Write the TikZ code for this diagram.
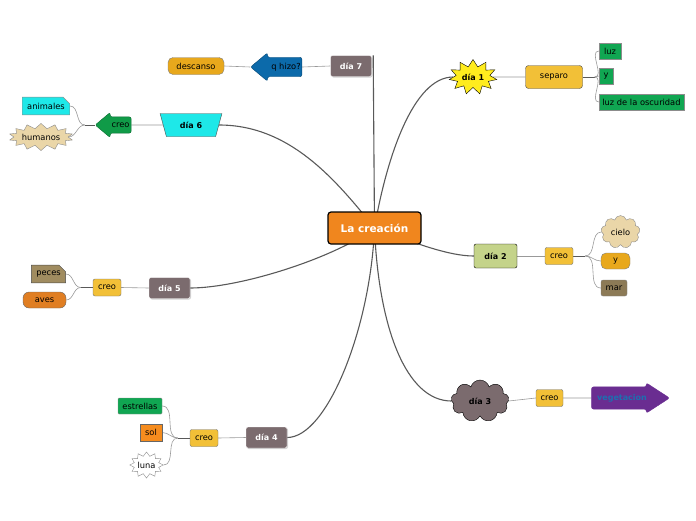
\documentclass[tikz,border=0pt]{standalone}
\usepackage{fontspec}
\setmainfont{DejaVu Sans}
\usetikzlibrary{shapes.geometric,shapes.symbols,shapes.arrows,shapes.misc,backgrounds,shadows,calc}
\definecolor{creaorange}{RGB}{240,134,30}
\definecolor{diagray}{RGB}{123,107,110}
\definecolor{dcyan}{RGB}{30,232,232}
\definecolor{leafgreen}{RGB}{16,166,82}
\definecolor{arrowgreen}{RGB}{16,155,72}
\definecolor{creogold}{RGB}{242,192,55}
\definecolor{darkgold}{RGB}{232,168,28}
\definecolor{qblue}{RGB}{12,106,170}
\definecolor{sandtan}{RGB}{234,214,168}
\definecolor{staryellow}{RGB}{255,236,30}
\definecolor{olivegreen}{RGB}{196,211,138}
\definecolor{pecesbrown}{RGB}{160,140,96}
\definecolor{marbrown}{RGB}{140,122,86}
\definecolor{vegpurple}{RGB}{106,45,145}
\definecolor{vegblue}{RGB}{30,111,176}
\definecolor{solorange}{RGB}{245,140,30}
\definecolor{avesorange}{RGB}{224,126,34}

\begin{document}
\begin{tikzpicture}[x=1pt,y=-1pt,
    topic/.style={rectangle, rounded corners=3pt, draw=black, line width=1.2pt,
        fill=creaorange, text=white, font=\bfseries\fontsize{10.5}{12}\selectfont,
        minimum width=93pt, minimum height=32pt},
    dia/.style={rectangle, rounded corners=2pt, draw=white, fill=diagray,
        text=white, font=\bfseries\fontsize{8}{9}\selectfont,
        minimum width=41pt, minimum height=21pt,
        drop shadow={opacity=0.35, shadow xshift=1pt, shadow yshift=-1pt}},
    sub/.style={rectangle, rounded corners=2pt, draw=black!55, fill=creogold,
        font=\fontsize{8.3}{9}\selectfont, minimum height=17pt, inner sep=2pt},
    leaf/.style={rectangle, draw=black!45, font=\fontsize{8.3}{9}\selectfont,
        minimum height=16pt, inner sep=2pt},
    branch/.style={draw=black!65, line width=1.1pt},
    link/.style={draw=black!40, line width=0.6pt},
    stub/.style={draw=black!65, line width=0.9pt}
]
\useasboundingbox (0,0) rectangle (696,520);

% centre
\node[topic] (crea) at (374.5,228) {La creación};

% dia 7
\node[dia] (dia7) at (351,66) {día 7};
\node[single arrow, shape border rotate=180, fill=qblue, draw=qblue!70!black,
      rounded corners=2pt, font=\fontsize{8.3}{9}\selectfont,
      minimum height=50pt, single arrow head extend=4.5pt, single arrow tip angle=80,
      inner xsep=1pt, inner ysep=5.5pt] (qhizo) at (282,67) {\hspace{8pt}q hizo?};
\node[leaf, rounded corners=5pt, fill=darkgold, draw=black!50, minimum width=56pt,
      minimum height=17pt] (descanso) at (196,66) {descanso};

% dia 6
\node[trapezium, shape border rotate=180, draw=black!70, fill=dcyan,
      font=\bfseries\fontsize{8}{9}\selectfont, trapezium left angle=70,
      trapezium right angle=70, minimum width=62pt, minimum height=23pt,
      inner sep=1pt, trapezium stretches=true] (dia6) at (191,125) {día 6};
\node[single arrow, shape border rotate=180, fill=arrowgreen, draw=arrowgreen!70!black,
      rounded corners=2pt, font=\fontsize{8.3}{9}\selectfont,
      minimum height=36pt, single arrow head extend=4.5pt, single arrow tip angle=80,
      inner xsep=1pt, inner ysep=5.5pt] (creo6) at (118,125) {\hspace{5pt}creo};
\node[leaf, chamfered rectangle, chamfered rectangle corners=north east,
      chamfered rectangle xsep=3pt, fill=dcyan, minimum width=47pt] (animales) at (46,106) {animales};
\node[starburst, starburst points=14, starburst point height=5pt, random starburst=0,
      draw=black!45, fill=sandtan, font=\fontsize{8.3}{9}\selectfont,
      minimum width=58pt, minimum height=27pt, inner sep=0pt] (humanos) at (41,137) {humanos};

% dia 1
\node[starburst, starburst points=11, starburst point height=7pt, random starburst=0,
      draw=black, fill=staryellow, font=\bfseries\fontsize{8}{9}\selectfont,
      minimum width=48pt, minimum height=35pt, inner sep=0pt] (dia1) at (473,77) {día 1};
\node[sub, minimum width=57pt, minimum height=23pt, rounded corners=3pt,
      draw=black!70] (separo) at (554,77) {separo};
\node[leaf, fill=leafgreen, minimum width=22pt] (luz) at (610,51) {luz};
\node[leaf, fill=leafgreen, minimum width=14pt] (y1) at (606,76) {y};
\node[leaf, fill=leafgreen, minimum width=85pt, inner xsep=1pt] (luzosc) at (641.5,102) {luz de la oscuridad};

% dia 2
\node[rectangle, rounded corners=2pt, draw=black, fill=olivegreen,
      font=\bfseries\fontsize{8}{9}\selectfont,
      minimum width=43pt, minimum height=24pt] (dia2) at (495.5,256) {día 2};
\node[sub, minimum width=28pt] (creo2) at (559,256) {creo};
\node[cloud, cloud puffs=9, draw=black!45, fill=sandtan, font=\fontsize{8.3}{9}\selectfont,
      minimum width=39pt, minimum height=29pt, inner sep=0pt] (cielo) at (620.5,232) {cielo};
\node[leaf, rounded corners=5pt, fill=darkgold, draw=black!50, minimum width=29pt] (y2) at (615.5,261) {y};
\node[leaf, rounded corners=2pt, fill=marbrown, draw=black!50, minimum width=26pt] (mar) at (614,288) {mar};

% dia 3
\node[cloud, cloud puffs=9, draw=black, fill=diagray, font=\bfseries\fontsize{8}{9}\selectfont,
      minimum width=58pt, minimum height=42pt, inner sep=0pt] (dia3) at (480,401) {día 3};
\node[sub, minimum width=27pt] (creo3) at (549.5,398) {creo};
\node[single arrow, fill=vegpurple, draw=vegpurple, rounded corners=2pt,
      text=vegblue, font=\bfseries\fontsize{8}{9}\selectfont,
      minimum height=78pt, single arrow head extend=4pt, single arrow tip angle=66,
      inner xsep=1pt, inner ysep=7pt] (veget) at (622,398) {vegetacion};

% dia 4
\node[dia] (dia4) at (266.5,437.5) {día 4};
\node[sub, minimum width=28pt] (creo4) at (204,438) {creo};
\node[leaf, rounded corners=1pt, fill=leafgreen, minimum width=44pt] (estrellas) at (140,406) {estrellas};
\node[leaf, fill=solorange, draw=black!60, minimum width=22pt, minimum height=17pt] (sol) at (151,432.5) {sol};
\node[starburst, starburst points=12, starburst point height=4pt, random starburst=0,
      draw=black!45, fill=white, font=\fontsize{8.3}{9}\selectfont,
      minimum width=33pt, minimum height=26pt, inner sep=0pt] (luna) at (146.5,465) {luna};

% dia 5
\node[dia] (dia5) at (169.5,288) {día 5};
\node[sub, minimum width=28pt] (creo5) at (107,287.5) {creo};
\node[leaf, chamfered rectangle, chamfered rectangle corners=north east,
      chamfered rectangle xsep=3pt, fill=pecesbrown, draw=black!70, minimum width=33pt] (peces) at (48.5,274) {peces};
\node[leaf, rounded corners=6pt, fill=avesorange, draw=black!60, minimum width=43pt] (aves) at (44.5,300) {aves};

\begin{scope}[on background layer]
% main branches
\draw[branch] ([xshift=1.5pt]dia7.north east) -- (crea.center);
\draw[branch] (dia6.east) .. controls +(70,0) and +(-40,-50) .. (crea.center);
\draw[branch] (dia1.west) .. controls +(-40,0) and +(12,-70) .. (crea.center);
\draw[branch] (dia2.west) .. controls +(-25,0) and +(40,15) .. (crea.center);
\draw[branch] (dia3.west) .. controls +(-45,0) and +(4,100) .. (crea.center);
\draw[branch] (dia4.east) .. controls +(40,0) and +(-4,100) .. (crea.center);
\draw[branch] (dia5.east) .. controls +(50,0) and +(-40,30) .. (crea.center);

% links
\draw[link] (dia7.west) -- (qhizo.east);
\draw[link] (qhizo.west) -- (descanso.east);
\draw[link] (dia6.west) -- (creo6.east);
\draw[link] (dia1.east) -- (separo.west);
\draw[link] (dia2.east) -- (creo2.west);
\draw[link] (dia3.east) -- (creo3.west);
\draw[link] (creo3.east) -- (veget.west);
\draw[link] (dia4.west) -- (creo4.east);
\draw[link] (dia5.west) -- (creo5.east);

% fans
\draw[stub] (creo6.west) -- ++(-10,0) coordinate (f6);
\draw[link] (f6) to[out=180,in=0] (animales.east);
\draw[link] (f6) to[out=180,in=0] (humanos.east);
\draw[stub] (separo.east) -- ++(12,0) coordinate (f1);
\draw[link] (f1) to[out=0,in=180] (luz.west);
\draw[link] (f1) to[out=0,in=180] (y1.west);
\draw[link] (f1) to[out=0,in=180] (luzosc.west);
\draw[stub] (creo2.east) -- ++(12,0) coordinate (f2);
\draw[link] (f2) to[out=0,in=180] (cielo.west);
\draw[link] (f2) to[out=0,in=180] (y2.west);
\draw[link] (f2) to[out=0,in=180] (mar.west);
\draw[stub] (creo4.west) -- ++(-12,0) coordinate (f4);
\draw[link] (f4) to[out=180,in=0] (estrellas.east);
\draw[link] (f4) to[out=180,in=0] (sol.east);
\draw[link] (f4) to[out=180,in=0] (luna.east);
\draw[stub] (creo5.west) -- ++(-12,0) coordinate (f5);
\draw[link] (f5) to[out=180,in=0] (peces.east);
\draw[link] (f5) to[out=180,in=0] (aves.east);
\end{scope}
\end{tikzpicture}
\end{document}
